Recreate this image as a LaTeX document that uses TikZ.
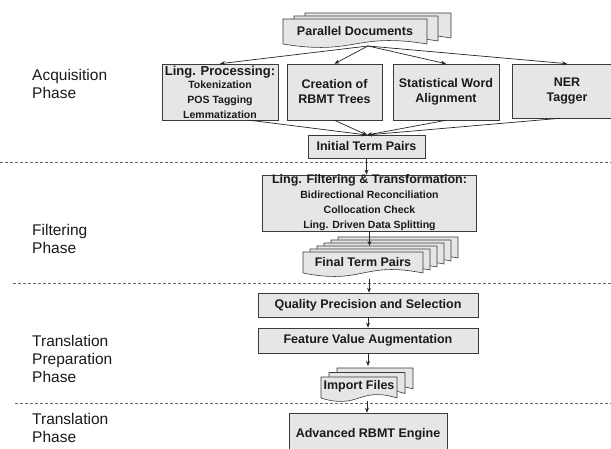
\documentclass[tikz,border=0pt]{standalone}
\usepackage{fontspec}
\setmainfont{Liberation Sans}
\usetikzlibrary{arrows.meta,calc}
\definecolor{boxfill}{HTML}{E6E6E6}
\definecolor{boxline}{HTML}{3A3A3A}
\definecolor{txt}{HTML}{1A1A1A}
\newcommand\subf{\fontsize{10.5}{12.5}\selectfont}
\newcommand\subff{\fontsize{10.5}{13}\selectfont}
\newcommand\docpg[4]{%
  \filldraw[draw=boxline,fill=boxfill,line width=0.6pt,line join=round]
    (#1,#2) -- (#3,#2) -- (#3,#4)
    .. controls ({(#1+#3)/2},{#4-12}) and ({(#1+#3)/2},{#4+12}) .. (#1,#4) -- cycle;}
\begin{document}
\begin{tikzpicture}[x=1pt,y=-1pt,
  box/.style={draw=boxline,fill=boxfill,line width=0.6pt,inner sep=0pt,align=center,
    text=txt,font=\fontsize{12.5}{15}\selectfont\bfseries},
  doctext/.style={inner sep=0pt,align=center,text=txt,font=\fontsize{12.5}{15}\selectfont\bfseries},
  phase/.style={anchor=west,align=left,inner sep=0pt,text=txt,font=\fontsize{15.5}{18}\selectfont},
  arr/.style={-{Stealth[length=5pt,width=4pt]},line width=0.7pt,draw=black!85},
  sep/.style={dash pattern=on 3pt off 2pt,line width=0.6pt,draw=black!60}]
\useasboundingbox (0,0) rectangle (611,449);
\clip (0,0) rectangle (611,449);
\fill[white] (0,0) rectangle (611,449);

% separators
\draw[sep] (0,162) -- (611,162);
\draw[sep] (13,283) -- (611,283);
\draw[sep] (15,403) -- (611,403);

% phase labels
\node[phase] (ph1) at (32,84) {Acquisition\\Phase};
\node[phase] (ph2) at (32,239) {Filtering\\Phase};
\node[phase] (ph3) at (32,359) {Translation\\Preparation\\Phase};
\node[phase] (ph4) at (32,428) {Translation\\Phase};

% Parallel documents
\docpg{305}{13}{451}{38}
\docpg{294}{16}{438}{41}
\docpg{283}{19}{427}{44}
\node[doctext] (pd) at (355,31) {Parallel Documents};
\coordinate (pdout) at (368,46);

% acquisition boxes
\node[box,minimum width=116pt,minimum height=56pt] (ling) at (220,92)
  {\fontsize{13}{14}\selectfont Ling. Processing:\\[-2pt]\subf Tokenization\\\subf POS Tagging\\\subf Lemmatization};
\node[box,minimum width=95pt,minimum height=56pt] (creat) at (334.5,92) {Creation of\\RBMT Trees};
\node[box,minimum width=106pt,minimum height=56pt] (stat) at (446,92) {Statistical Word\\Alignment};
\node[box,minimum width=110pt,minimum height=54pt] (ner) at (567,91) {NER\\Tagger};

\node[box,minimum width=117pt,minimum height=23pt] (itp) at (366.5,146.5) {Initial Term Pairs};
\coordinate (itpin) at (367,135);

% filtering
\node[box,minimum width=214pt,minimum height=56pt] (filt) at (369.5,203)
  {Ling. Filtering \& Transformation:\\\subff Bidirectional Reconciliation\\\subff Collocation Check\\\subff Ling. Driven Data Splitting};

\foreach \k in {5,4,3,2,1,0}{
  \docpg{303+7*\k}{252-3*\k}{423+7*\k}{273-3*\k}
}
\node[doctext] (ftp) at (363,262) {Final Term Pairs};
\coordinate (ftpin) at (369.5,246);
\coordinate (ftpout) at (369,279);

% translation preparation
\node[box,minimum width=220pt,minimum height=24pt] (qual) at (368,305) {Quality Precision and Selection};
\node[box,minimum width=220pt,minimum height=25pt] (feat) at (368,340.5) {Feature Value Augmentation};

\foreach \k in {2,1,0}{
  \docpg{321+8*\k}{377-4.5*\k}{397+8*\k}{398-4.5*\k}
}
\node[doctext] (imp) at (359,386) {Import Files};
\coordinate (impin) at (368,366);
\coordinate (impout) at (367,401);

% translation
\node[box,minimum width=158pt,minimum height=42pt] (adv) at (368,434) {Advanced RBMT Engine};

% connectors
\foreach \n in {ling,creat,stat,ner}{\draw[arr] (pdout) -- (\n.north);}
\draw[arr] ($(ling.south)+(30,0)$) -- (itpin);
\draw[arr] (creat.south) -- (itpin);
\draw[arr] (stat.south) -- (itpin);
\draw[arr] ($(ner.south)+(-7,0)$) -- (itpin);
\draw[arr] (itp.south) -- (itp.south |- filt.north);
\draw[arr] (filt.south) -- (ftpin);
\draw[arr] (ftpout) -- (ftpout |- qual.north);
\draw[arr] (qual.south) -- (feat.north);
\draw[arr] (feat.south) -- (impin);
\draw[arr] (impout) -- (impout |- adv.north);
\end{tikzpicture}
\end{document}
